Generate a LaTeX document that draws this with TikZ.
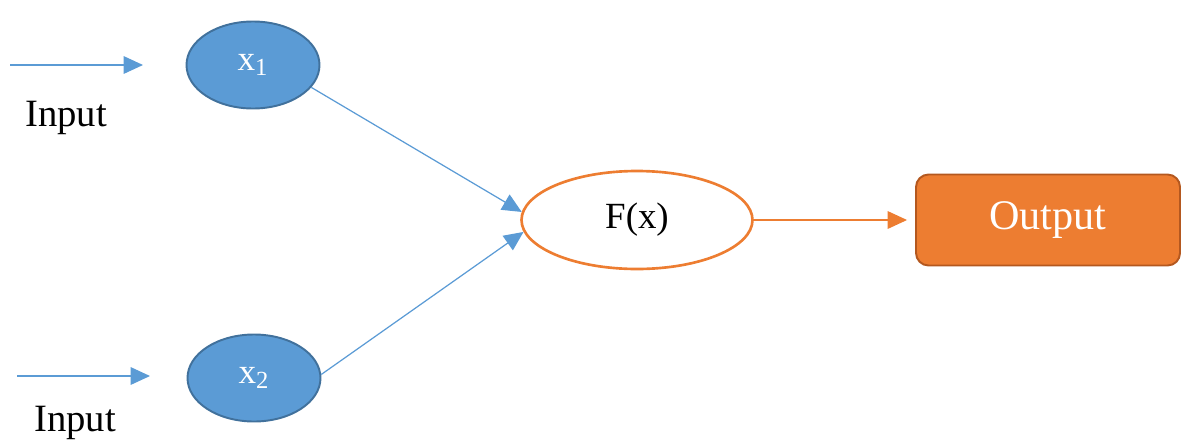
\documentclass[tikz,border=0pt]{standalone}
\usepackage{fontspec}
\setmainfont{Liberation Serif}
\usetikzlibrary{arrows.meta,shapes.geometric,positioning}
\definecolor{nodeblue}{HTML}{5B9BD5}
\definecolor{nodeedge}{HTML}{41719C}
\definecolor{outorange}{HTML}{ED7D31}
\definecolor{outedge}{HTML}{B4581F}
\tikzset{
	innode/.style={ellipse, draw=nodeedge, line width=1.1pt, fill=nodeblue, text=white,
		minimum width=2.66cm, minimum height=1.74cm, inner sep=0pt, font=\fontsize{20}{22}\selectfont},
	fnode/.style={ellipse, draw=outorange, line width=1.5pt, fill=white,
		minimum width=4.62cm, minimum height=1.96cm, inner sep=0pt, font=\fontsize{21}{24}\selectfont},
	outbox/.style={rectangle, rounded corners=0.25cm, draw=outedge, line width=1.1pt, fill=outorange,
		text=white, minimum width=5.28cm, minimum height=1.82cm, inner sep=0pt, font=\fontsize{24}{28}\selectfont},
	bluearrow/.style={->, draw=nodeblue, line width=0.7pt},
	orangearrow/.style={->, draw=outorange, line width=0.7pt}
}

\begin{document}
\begin{tikzpicture}[>={Triangle[length=11pt,width=10pt]}, font=\fontsize{22}{26}\selectfont]
	\useasboundingbox (0,0) rectangle (23.62,-8.8);
	% input nodes
	\node[innode] (x1) at (5.06,-1.30) {x\textsubscript{1}};
	\node[innode] (x2) at (5.08,-7.56) {x\textsubscript{2}};
	% activation and output
	\node[fnode] (fx) at (12.74,-4.40) {F(x)};
	\node[outbox] (out) at (20.96,-4.40) {Output};
	% inputs on the left
	\coordinate (in1a) at (0.20,-1.30);
	\coordinate (in1b) at (2.86,-1.30);
	\coordinate (in2a) at (0.34,-7.52);
	\coordinate (in2b) at (3.00,-7.52);
	\draw[bluearrow] (in1a) -- (in1b);
	\draw[bluearrow] (in2a) -- (in2b);
	\node[anchor=base] (lab1) at (1.32,-2.52) {Input};
	\node[anchor=base] (lab2) at (1.50,-8.62) {Input};
	% connections
	\draw[bluearrow] (x1.-21) -- (fx.176);
	\draw[bluearrow] (x2.3) -- (fx.-174);
	\draw[orangearrow, shorten >=0.16cm] (fx.east) -- (out.west);
\end{tikzpicture}
\end{document}
